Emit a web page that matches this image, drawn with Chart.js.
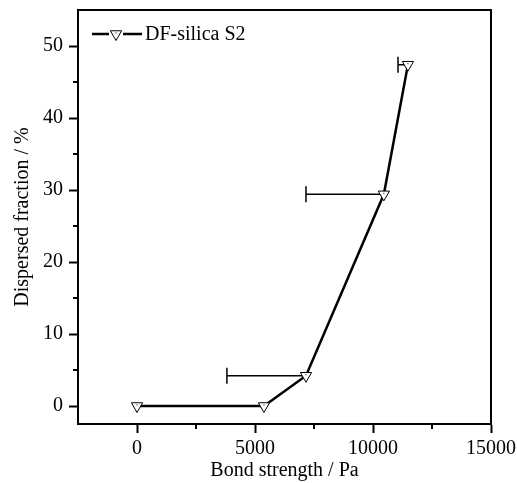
<!DOCTYPE html>
<html>
<head>
<meta charset="utf-8">
<title>Dispersed fraction vs bond strength</title>
<script src="https://cdn.jsdelivr.net/npm/chart.js@4.4.1/dist/chart.umd.min.js"></script>
<style>
    html, body { margin: 0; padding: 0; background: #fff; }
    #wrap { width: 517px; height: 483px; }
</style>
</head>
<body>
<div id="wrap"><canvas id="bondChart" width="517" height="483"></canvas></div>
<script>
// Data
const bondStrength = [0, 5380, 7160, 10460, 11480];     // Pa
const dispersedFraction = [0, 0, 4.2, 29.4, 47.4];      // %
const bondErrMinus = [0, 0, 3350, 3300, 420];           // one-sided (left) error, Pa
const seriesName = 'DF-silica S2';

// axis ranges and ticks
const xMin = -2500, xMax = 15000;
const yMin = -2.5, yMax = 55;
const xMajorTicks = [0, 5000, 10000, 15000];
const xMinorTicks = [2500, 7500, 12500];
const yMajorTicks = [0, 10, 20, 30, 40, 50];
const yMinorTicks = [5, 15, 25, 35, 45];

const serif = "'Liberation Serif', 'DejaVu Serif', serif";

// error bars (left side only), drawn under the markers
const errorBarPlugin = {
    id: 'errorBars',
    beforeDatasetsDraw(chart) {
        const ctx = chart.ctx;
        const xs = chart.scales.x, ys = chart.scales.y;
        ctx.save();
        ctx.strokeStyle = '#000';
        ctx.lineWidth = 1.5;
        bondStrength.forEach((x, i) => {
            if (!bondErrMinus[i]) return;
            const y = ys.getPixelForValue(dispersedFraction[i]);
            const x0 = xs.getPixelForValue(x - bondErrMinus[i]);
            const x1 = xs.getPixelForValue(x);
            ctx.beginPath();
            ctx.moveTo(x0, y);
            ctx.lineTo(x1, y);
            ctx.moveTo(x0, y - 8);
            ctx.lineTo(x0, y + 8);
            ctx.stroke();
        });
        ctx.restore();
    }
};

// frame, minor ticks, marker dots and in-plot legend
const decorPlugin = {
    id: 'decor',
    afterDraw(chart) {
        const ctx = chart.ctx;
        const a = chart.chartArea;
        const xs = chart.scales.x, ys = chart.scales.y;
        ctx.save();

        // top and right frame lines
        ctx.strokeStyle = '#000';
        ctx.lineWidth = 2;
        ctx.beginPath();
        ctx.moveTo(a.left - 1, a.top);
        ctx.lineTo(a.right, a.top);
        ctx.lineTo(a.right, a.bottom + 1);
        ctx.stroke();

        // minor ticks (shorter, outward)
        ctx.beginPath();
        xMinorTicks.forEach(v => {
            const px = xs.getPixelForValue(v);
            ctx.moveTo(px, a.bottom);
            ctx.lineTo(px, a.bottom + 5);
        });
        yMinorTicks.forEach(v => {
            const py = ys.getPixelForValue(v);
            ctx.moveTo(a.left, py);
            ctx.lineTo(a.left - 5, py);
        });
        ctx.stroke();

        // small dot inside each marker
        ctx.fillStyle = '#000';
        chart.getDatasetMeta(0).data.forEach(pt => {
            ctx.fillRect(pt.x - 0.5, pt.y - 1.5, 1, 1);
        });

        // legend inside the plot, top-left
        const ly = a.top + 24;
        const lx = a.left + 14;
        ctx.lineWidth = 2.5;
        ctx.beginPath();
        ctx.moveTo(lx, ly);
        ctx.lineTo(lx + 17, ly);
        ctx.moveTo(lx + 31, ly);
        ctx.lineTo(lx + 50, ly);
        ctx.stroke();
        ctx.fillStyle = '#fff';
        ctx.lineWidth = 1;
        Chart.helpers.drawPoint(ctx, {
            pointStyle: 'triangle',
            rotation: 180,
            radius: 6.5,
            borderWidth: 1
        }, lx + 24, ly);
        ctx.fillStyle = '#000';
        ctx.fillRect(lx + 23.5, ly - 1.5, 1, 1);
        ctx.font = '20px ' + serif;
        ctx.textAlign = 'left';
        ctx.textBaseline = 'middle';
        ctx.fillText(seriesName, lx + 53, ly + 1);
        ctx.restore();
    }
};

const ctx = document.getElementById('bondChart').getContext('2d');
const bondChart = new Chart(ctx, {
    type: 'scatter',
    data: {
        datasets: [
            {
                label: seriesName,
                data: bondStrength.map((x, i) => ({ x: x, y: dispersedFraction[i] })),
                showLine: true,
                borderColor: '#000',
                borderWidth: 2.5,
                pointStyle: 'triangle',
                pointRotation: 180,
                pointRadius: 6.5,
                pointHoverRadius: 6.5,
                pointBackgroundColor: '#fff',
                pointBorderColor: '#000',
                pointBorderWidth: 1
            }
        ]
    },
    options: {
        responsive: false,
        animation: false,
        layout: {
            padding: { top: 10, right: 26, left: 0, bottom: 0 }
        },
        scales: {
            x: {
                type: 'linear',
                min: xMin,
                max: xMax,
                afterBuildTicks: scale => { scale.ticks = xMajorTicks.map(v => ({ value: v })); },
                afterFit: scale => {
                    scale.height = 59;
                    scale.paddingLeft = 0;
                    scale.paddingRight = 0;
                },
                grid: {
                    drawOnChartArea: false,
                    tickLength: 9,
                    tickWidth: 2,
                    tickColor: '#000'
                },
                border: { display: true, color: '#000', width: 2 },
                ticks: {
                    autoSkip: false,
                    maxRotation: 0,
                    padding: 4,
                    color: '#000',
                    font: { family: serif, size: 20 },
                    callback: v => String(v)
                },
                title: {
                    display: true,
                    text: 'Bond strength / Pa',
                    color: '#000',
                    font: { family: serif, size: 20 },
                    padding: { top: 0, bottom: 0 }
                }
            },
            y: {
                type: 'linear',
                min: yMin,
                max: yMax,
                afterBuildTicks: scale => { scale.ticks = yMajorTicks.map(v => ({ value: v })); },
                afterFit: scale => {
                    scale.width = 78;
                    scale.paddingTop = 0;
                    scale.paddingBottom = 0;
                },
                grid: {
                    drawOnChartArea: false,
                    tickLength: 9,
                    tickWidth: 2,
                    tickColor: '#000'
                },
                border: { display: true, color: '#000', width: 2 },
                ticks: {
                    autoSkip: false,
                    padding: 6,
                    color: '#000',
                    font: { family: serif, size: 20 },
                    callback: v => String(v)
                },
                title: {
                    display: true,
                    text: 'Dispersed fraction / %',
                    color: '#000',
                    font: { family: serif, size: 20 },
                    padding: { top: 11, bottom: 0 }
                }
            }
        },
        plugins: {
            legend: { display: false },
            tooltip: { enabled: false }
        }
    },
    plugins: [errorBarPlugin, decorPlugin]
});
</script>
</body>
</html>
